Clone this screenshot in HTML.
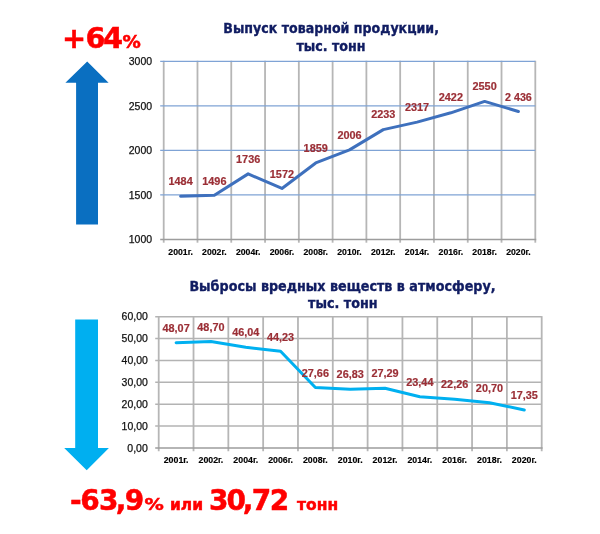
<!DOCTYPE html>
<html><head><meta charset="utf-8"><title>Выпуск товарной продукции</title>
<style>
html,body{margin:0;padding:0;background:#fff;}
body{width:600px;height:534px;overflow:hidden;}
svg{display:block;will-change:transform;filter:blur(0.35px);}
.yl{font-family:"Liberation Sans",sans-serif;font-size:10.4px;fill:#111;stroke:#111;stroke-width:0.25px;}
.dl{font-family:"Liberation Sans",sans-serif;font-size:10.6px;font-weight:bold;fill:#9b2f36;stroke:#9b2f36;stroke-width:0.2px;}
.xl{font-family:"Liberation Sans",sans-serif;font-size:8.6px;font-weight:bold;fill:#000;stroke:#000;stroke-width:0.15px;}
.ti{font-family:"DejaVu Sans",sans-serif;font-size:13.3px;font-weight:bold;fill:#101c62;stroke:#101c62;stroke-width:0.35px;}
.big{font-family:"DejaVu Sans",sans-serif;font-weight:bold;fill:#ff0000;stroke:#ff0000;stroke-width:0.5px;}
</style></head>
<body>
<svg width="600" height="534" viewBox="0 0 600 534">
<rect width="600" height="534" fill="#fff"/>
<!-- titles -->
<text class="ti" x="223.3" y="33.3" textLength="215.7" lengthAdjust="spacingAndGlyphs">Выпуск товарной продукции,</text>
<text class="ti" x="296.4" y="50.5" textLength="69.2" lengthAdjust="spacingAndGlyphs">тыс. тонн</text>
<text class="ti" x="189.4" y="291.4" textLength="306.2" lengthAdjust="spacingAndGlyphs">Выбросы вредных веществ в атмосферу,</text>
<text class="ti" x="308" y="308.4" textLength="69.6" lengthAdjust="spacingAndGlyphs">тыс. тонн</text>
<!-- +64% -->
<text class="big" y="48.4"><tspan x="62" font-size="28.8px">+</tspan><tspan x="85.5" font-size="28.8px">6</tspan><tspan x="103" font-size="28.8px">4</tspan><tspan x="122.5" font-size="17px" textLength="18.3" lengthAdjust="spacingAndGlyphs">%</tspan></text>
<!-- up arrow -->
<polygon points="87.2,61.5 108.6,82.8 98,82.8 98,224.5 76.1,224.5 76.1,82.8 65.4,82.8" fill="#0a6fc1"/>
<!-- down arrow -->
<polygon points="75.2,319.6 98,319.6 98,448.1 108.9,448.1 86.7,470.3 64.2,448.1 75.2,448.1" fill="#00aff0"/>
<!-- bottom text -->
<text class="big" y="509.9"><tspan x="70" font-size="28px">-</tspan><tspan x="80.3" font-size="28px">6</tspan><tspan x="98.9" font-size="28px">3</tspan><tspan x="115.7" font-size="28px">,</tspan><tspan x="124.75" font-size="28px">9</tspan><tspan x="144.6" font-size="16px" textLength="19.3" lengthAdjust="spacingAndGlyphs">%</tspan><tspan x="170" font-size="15.5px"> </tspan><tspan x="170" font-size="15.5px">или</tspan><tspan x="204" font-size="15.5px"> </tspan><tspan x="209" font-size="28px">3</tspan><tspan x="226.5" font-size="28px">0</tspan><tspan x="242.75" font-size="28px">,</tspan><tspan x="251.75" font-size="28px">7</tspan><tspan x="269.75" font-size="28px">2</tspan><tspan x="292" font-size="15.5px"> </tspan><tspan x="297.1" font-size="15.5px">тонн</tspan></text>
<line x1="163.7" y1="60.75" x2="163.7" y2="242.7" stroke="#b6b6b6" stroke-width="1.8"/>
<line x1="197.48" y1="60.75" x2="197.48" y2="242.7" stroke="#b6b6b6" stroke-width="1.8"/>
<line x1="231.26" y1="60.75" x2="231.26" y2="242.7" stroke="#b6b6b6" stroke-width="1.8"/>
<line x1="265.05" y1="60.75" x2="265.05" y2="242.7" stroke="#b6b6b6" stroke-width="1.8"/>
<line x1="298.83" y1="60.75" x2="298.83" y2="242.7" stroke="#b6b6b6" stroke-width="1.8"/>
<line x1="332.61" y1="60.75" x2="332.61" y2="242.7" stroke="#b6b6b6" stroke-width="1.8"/>
<line x1="366.39" y1="60.75" x2="366.39" y2="242.7" stroke="#b6b6b6" stroke-width="1.8"/>
<line x1="400.17" y1="60.75" x2="400.17" y2="242.7" stroke="#b6b6b6" stroke-width="1.8"/>
<line x1="433.95" y1="60.75" x2="433.95" y2="242.7" stroke="#b6b6b6" stroke-width="1.8"/>
<line x1="467.74" y1="60.75" x2="467.74" y2="242.7" stroke="#b6b6b6" stroke-width="1.8"/>
<line x1="501.52" y1="60.75" x2="501.52" y2="242.7" stroke="#b6b6b6" stroke-width="1.8"/>
<line x1="535.3" y1="60.75" x2="535.3" y2="242.7" stroke="#b6b6b6" stroke-width="1.8"/>
<line x1="160.2" y1="194.89" x2="535.3" y2="194.89" stroke="#7fa3d5" stroke-width="1.25"/>
<line x1="160.2" y1="150.38" x2="535.3" y2="150.38" stroke="#7fa3d5" stroke-width="1.25"/>
<line x1="160.2" y1="105.86" x2="535.3" y2="105.86" stroke="#7fa3d5" stroke-width="1.25"/>
<line x1="160.2" y1="61.35" x2="535.3" y2="61.35" stroke="#7fa3d5" stroke-width="1.25"/>
<line x1="160.2" y1="239.4" x2="536.2" y2="239.4" stroke="#9d9d9d" stroke-width="1.5"/>
<text x="152.1" y="243.1" text-anchor="end" class="yl" textLength="23.3" lengthAdjust="spacingAndGlyphs">1000</text>
<text x="152.1" y="198.59" text-anchor="end" class="yl" textLength="23.3" lengthAdjust="spacingAndGlyphs">1500</text>
<text x="152.1" y="154.07" text-anchor="end" class="yl" textLength="23.3" lengthAdjust="spacingAndGlyphs">2000</text>
<text x="152.1" y="109.56" text-anchor="end" class="yl" textLength="23.3" lengthAdjust="spacingAndGlyphs">2500</text>
<text x="152.1" y="65.05" text-anchor="end" class="yl" textLength="23.3" lengthAdjust="spacingAndGlyphs">3000</text>
<polyline points="180.59,196.31 214.37,195.24 248.15,173.88 281.94,188.48 315.72,162.93 349.5,149.84 383.28,129.63 417.06,122.15 450.85,112.81 484.63,101.41 518.41,111.56" fill="none" stroke="#3e70bd" stroke-width="3" stroke-linejoin="round" stroke-linecap="round"/>
<text x="180.59" y="185.31" text-anchor="middle" class="dl" textLength="24.2" lengthAdjust="spacingAndGlyphs">1484</text>
<text x="214.37" y="185.24" text-anchor="middle" class="dl" textLength="24.2" lengthAdjust="spacingAndGlyphs">1496</text>
<text x="248.15" y="162.88" text-anchor="middle" class="dl" textLength="24.2" lengthAdjust="spacingAndGlyphs">1736</text>
<text x="281.94" y="178.08" text-anchor="middle" class="dl" textLength="24.2" lengthAdjust="spacingAndGlyphs">1572</text>
<text x="315.72" y="151.93" text-anchor="middle" class="dl" textLength="24.2" lengthAdjust="spacingAndGlyphs">1859</text>
<text x="349.5" y="138.84" text-anchor="middle" class="dl" textLength="24.2" lengthAdjust="spacingAndGlyphs">2006</text>
<text x="383.28" y="117.63" text-anchor="middle" class="dl" textLength="24.2" lengthAdjust="spacingAndGlyphs">2233</text>
<text x="417.06" y="111.15" text-anchor="middle" class="dl" textLength="24.2" lengthAdjust="spacingAndGlyphs">2317</text>
<text x="450.85" y="101.21" text-anchor="middle" class="dl" textLength="24.2" lengthAdjust="spacingAndGlyphs">2422</text>
<text x="484.63" y="90.41" text-anchor="middle" class="dl" textLength="24.2" lengthAdjust="spacingAndGlyphs">2550</text>
<text x="518.41" y="101.06" text-anchor="middle" class="dl" textLength="26.8" lengthAdjust="spacingAndGlyphs">2 436</text>
<text x="180.59" y="254.6" text-anchor="middle" class="xl" textLength="24.5" lengthAdjust="spacingAndGlyphs">2001г.</text>
<text x="214.37" y="254.6" text-anchor="middle" class="xl" textLength="24.5" lengthAdjust="spacingAndGlyphs">2002г.</text>
<text x="248.15" y="254.6" text-anchor="middle" class="xl" textLength="24.5" lengthAdjust="spacingAndGlyphs">2004г.</text>
<text x="281.94" y="254.6" text-anchor="middle" class="xl" textLength="24.5" lengthAdjust="spacingAndGlyphs">2006г.</text>
<text x="315.72" y="254.6" text-anchor="middle" class="xl" textLength="24.5" lengthAdjust="spacingAndGlyphs">2008г.</text>
<text x="349.5" y="254.6" text-anchor="middle" class="xl" textLength="24.5" lengthAdjust="spacingAndGlyphs">2010г.</text>
<text x="383.28" y="254.6" text-anchor="middle" class="xl" textLength="24.5" lengthAdjust="spacingAndGlyphs">2012г.</text>
<text x="417.06" y="254.6" text-anchor="middle" class="xl" textLength="24.5" lengthAdjust="spacingAndGlyphs">2014г.</text>
<text x="450.85" y="254.6" text-anchor="middle" class="xl" textLength="24.5" lengthAdjust="spacingAndGlyphs">2016г.</text>
<text x="484.63" y="254.6" text-anchor="middle" class="xl" textLength="24.5" lengthAdjust="spacingAndGlyphs">2018г.</text>
<text x="518.41" y="254.6" text-anchor="middle" class="xl" textLength="24.5" lengthAdjust="spacingAndGlyphs">2020г.</text>
<line x1="158.7" y1="316.1" x2="158.7" y2="451.25" stroke="#b6b6b6" stroke-width="1.8"/>
<line x1="193.52" y1="316.1" x2="193.52" y2="451.25" stroke="#b6b6b6" stroke-width="1.8"/>
<line x1="228.34" y1="316.1" x2="228.34" y2="451.25" stroke="#b6b6b6" stroke-width="1.8"/>
<line x1="263.15" y1="316.1" x2="263.15" y2="451.25" stroke="#b6b6b6" stroke-width="1.8"/>
<line x1="297.97" y1="316.1" x2="297.97" y2="451.25" stroke="#b6b6b6" stroke-width="1.8"/>
<line x1="332.79" y1="316.1" x2="332.79" y2="451.25" stroke="#b6b6b6" stroke-width="1.8"/>
<line x1="367.61" y1="316.1" x2="367.61" y2="451.25" stroke="#b6b6b6" stroke-width="1.8"/>
<line x1="402.43" y1="316.1" x2="402.43" y2="451.25" stroke="#b6b6b6" stroke-width="1.8"/>
<line x1="437.25" y1="316.1" x2="437.25" y2="451.25" stroke="#b6b6b6" stroke-width="1.8"/>
<line x1="472.06" y1="316.1" x2="472.06" y2="451.25" stroke="#b6b6b6" stroke-width="1.8"/>
<line x1="506.88" y1="316.1" x2="506.88" y2="451.25" stroke="#b6b6b6" stroke-width="1.8"/>
<line x1="541.7" y1="316.1" x2="541.7" y2="451.25" stroke="#b6b6b6" stroke-width="1.8"/>
<line x1="155.2" y1="426.07" x2="541.7" y2="426.07" stroke="#b3b3b3" stroke-width="1.6"/>
<line x1="155.2" y1="404.2" x2="541.7" y2="404.2" stroke="#b3b3b3" stroke-width="1.6"/>
<line x1="155.2" y1="382.32" x2="541.7" y2="382.32" stroke="#b3b3b3" stroke-width="1.6"/>
<line x1="155.2" y1="360.45" x2="541.7" y2="360.45" stroke="#b3b3b3" stroke-width="1.6"/>
<line x1="155.2" y1="338.57" x2="541.7" y2="338.57" stroke="#b3b3b3" stroke-width="1.6"/>
<line x1="155.2" y1="316.7" x2="541.7" y2="316.7" stroke="#b3b3b3" stroke-width="1.6"/>
<line x1="155.2" y1="447.95" x2="542.6" y2="447.95" stroke="#9d9d9d" stroke-width="1.5"/>
<text x="147.8" y="451.65" text-anchor="end" class="yl" textLength="20.5" lengthAdjust="spacingAndGlyphs">0,00</text>
<text x="147.8" y="429.77" text-anchor="end" class="yl" textLength="26.2" lengthAdjust="spacingAndGlyphs">10,00</text>
<text x="147.8" y="407.9" text-anchor="end" class="yl" textLength="26.2" lengthAdjust="spacingAndGlyphs">20,00</text>
<text x="147.8" y="386.02" text-anchor="end" class="yl" textLength="26.2" lengthAdjust="spacingAndGlyphs">30,00</text>
<text x="147.8" y="364.15" text-anchor="end" class="yl" textLength="26.2" lengthAdjust="spacingAndGlyphs">40,00</text>
<text x="147.8" y="342.27" text-anchor="end" class="yl" textLength="26.2" lengthAdjust="spacingAndGlyphs">50,00</text>
<text x="147.8" y="320.4" text-anchor="end" class="yl" textLength="26.2" lengthAdjust="spacingAndGlyphs">60,00</text>
<polyline points="176.11,342.8 210.93,341.42 245.75,347.24 280.56,351.2 315.38,387.44 350.2,389.26 385.02,388.25 419.84,396.68 454.65,399.26 489.47,402.67 524.29,410" fill="none" stroke="#00b0f0" stroke-width="3" stroke-linejoin="round" stroke-linecap="round"/>
<text x="176.11" y="331.8" text-anchor="middle" class="dl" textLength="27.2" lengthAdjust="spacingAndGlyphs">48,07</text>
<text x="210.93" y="331.42" text-anchor="middle" class="dl" textLength="27.2" lengthAdjust="spacingAndGlyphs">48,70</text>
<text x="245.75" y="336.24" text-anchor="middle" class="dl" textLength="27.2" lengthAdjust="spacingAndGlyphs">46,04</text>
<text x="280.56" y="341.3" text-anchor="middle" class="dl" textLength="27.2" lengthAdjust="spacingAndGlyphs">44,23</text>
<text x="315.38" y="377.04" text-anchor="middle" class="dl" textLength="27.2" lengthAdjust="spacingAndGlyphs">27,66</text>
<text x="350.2" y="378.26" text-anchor="middle" class="dl" textLength="27.2" lengthAdjust="spacingAndGlyphs">26,83</text>
<text x="385.02" y="377.25" text-anchor="middle" class="dl" textLength="27.2" lengthAdjust="spacingAndGlyphs">27,29</text>
<text x="419.84" y="385.68" text-anchor="middle" class="dl" textLength="27.2" lengthAdjust="spacingAndGlyphs">23,44</text>
<text x="454.65" y="388.26" text-anchor="middle" class="dl" textLength="27.2" lengthAdjust="spacingAndGlyphs">22,26</text>
<text x="489.47" y="391.67" text-anchor="middle" class="dl" textLength="27.2" lengthAdjust="spacingAndGlyphs">20,70</text>
<text x="524.29" y="399" text-anchor="middle" class="dl" textLength="27.2" lengthAdjust="spacingAndGlyphs">17,35</text>
<text x="176.11" y="463.15" text-anchor="middle" class="xl" textLength="24.8" lengthAdjust="spacingAndGlyphs">2001г.</text>
<text x="210.93" y="463.15" text-anchor="middle" class="xl" textLength="24.8" lengthAdjust="spacingAndGlyphs">2002г.</text>
<text x="245.75" y="463.15" text-anchor="middle" class="xl" textLength="24.8" lengthAdjust="spacingAndGlyphs">2004г.</text>
<text x="280.56" y="463.15" text-anchor="middle" class="xl" textLength="24.8" lengthAdjust="spacingAndGlyphs">2006г.</text>
<text x="315.38" y="463.15" text-anchor="middle" class="xl" textLength="24.8" lengthAdjust="spacingAndGlyphs">2008г.</text>
<text x="350.2" y="463.15" text-anchor="middle" class="xl" textLength="24.8" lengthAdjust="spacingAndGlyphs">2010г.</text>
<text x="385.02" y="463.15" text-anchor="middle" class="xl" textLength="24.8" lengthAdjust="spacingAndGlyphs">2012г.</text>
<text x="419.84" y="463.15" text-anchor="middle" class="xl" textLength="24.8" lengthAdjust="spacingAndGlyphs">2014г.</text>
<text x="454.65" y="463.15" text-anchor="middle" class="xl" textLength="24.8" lengthAdjust="spacingAndGlyphs">2016г.</text>
<text x="489.47" y="463.15" text-anchor="middle" class="xl" textLength="24.8" lengthAdjust="spacingAndGlyphs">2018г.</text>
<text x="524.29" y="463.15" text-anchor="middle" class="xl" textLength="24.8" lengthAdjust="spacingAndGlyphs">2020г.</text>
</svg>
</body></html>
